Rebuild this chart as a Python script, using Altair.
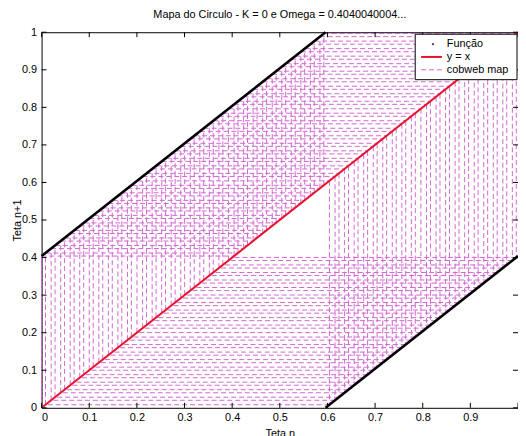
import math
import altair as alt
import pandas as pd

# ---------------- data ----------------
TITLE = "Mapa do Circulo - K = 0 e Omega = 0.4040040004..."
K = 0.0
OMEGA = 0.4040040004
X0 = 0.0
N_ITER = 100

# function branches (Função): end points of the two branches
func_x = [0.0, 0.596, 0.596, 1.0]
func_y = [0.404, 1.0, 0.0, 0.404]
func_branch = ["a", "a", "b", "b"]

# identity line y = x
id_x = [0.0, 1.0]
id_y = [0.0, 1.0]

x_tick_values = [0, 0.1, 0.2, 0.3, 0.4, 0.5, 0.6, 0.7, 0.8, 0.9, 1.0]
x_label_values = [0, 0.1, 0.2, 0.3, 0.4, 0.5, 0.6, 0.7, 0.8, 0.9]
y_tick_values = [0, 0.1, 0.2, 0.3, 0.4, 0.5, 0.6, 0.7, 0.8, 0.9, 1.0]

legend_labels = ["Função", "y = x", "cobweb map"]

# cobweb iterates of the circle map
iterates = [X0]
for _ in range(N_ITER):
    xn = iterates[-1]
    iterates.append((xn + OMEGA - K / (2 * math.pi) * math.sin(2 * math.pi * xn)) % 1.0)

seg_rows = []
for n in range(N_ITER):
    a, b = iterates[n], iterates[n + 1]
    seg_rows.append({"x": a, "y": a, "x2": a, "y2": b})
    seg_rows.append({"x": a, "y": b, "x2": b, "y2": b})
cobweb_df = pd.DataFrame(seg_rows)
func_df = pd.DataFrame({"x": func_x, "y": func_y, "branch": func_branch})
id_df = pd.DataFrame({"x": id_x, "y": id_y})
xt_df = pd.DataFrame({"v": x_tick_values})
yt_df = pd.DataFrame({"v": y_tick_values})

# ---------------- styling ----------------
W, H = 482, 380
FONT = "Liberation Sans"
MAG = "#d066d0"
RED = "#e8102a"

sx = alt.Scale(domain=[0, 1], nice=False, zero=False)
sy = alt.Scale(domain=[0, 1], nice=False, zero=False)
xaxis = alt.Axis(values=x_label_values, ticks=False, domain=False, grid=False,
                 labelPadding=4, title="Teta n", titlePadding=5, format="~g",
                 labelFont=FONT, labelFontSize=11, titleFont=FONT, titleFontSize=11,
                 titleFontWeight="normal", labelColor="black", titleColor="black")
yaxis = alt.Axis(values=y_tick_values, ticks=False, domain=False, grid=False,
                 labelPadding=5, title="Teta n+1", titlePadding=-1, format="~g",
                 labelFont=FONT, labelFontSize=11, titleFont=FONT, titleFontSize=11,
                 titleFontWeight="normal", labelColor="black", titleColor="black")

X = lambda f: alt.X(f, type="quantitative", scale=sx, axis=xaxis)
Y = lambda f: alt.Y(f, type="quantitative", scale=sy, axis=yaxis)

cobweb = alt.Chart(cobweb_df).mark_rule(color=MAG, strokeWidth=1, strokeDash=[5, 3]).encode(
    x=X("x"), y=Y("y"), x2="x2", y2="y2"
)
func = alt.Chart(func_df).mark_line(color="black", strokeWidth=2.5).encode(
    x=X("x"), y=Y("y"), detail="branch:N"
)
ident = alt.Chart(id_df).mark_line(color=RED, strokeWidth=2).encode(x=X("x"), y=Y("y"))

tick_len = 5
t_bottom = alt.Chart(xt_df).mark_rule(color="black").encode(
    x=X("v"), y=alt.value(H), y2=alt.value(H - tick_len))
t_top = alt.Chart(xt_df).mark_rule(color="black").encode(
    x=X("v"), y=alt.value(0), y2=alt.value(tick_len))
t_left = alt.Chart(yt_df).mark_rule(color="black").encode(
    y=Y("v"), x=alt.value(0), x2=alt.value(tick_len))
t_right = alt.Chart(yt_df).mark_rule(color="black").encode(
    y=Y("v"), x=alt.value(W), x2=alt.value(W - tick_len))

one = pd.DataFrame({"a": [0]})
LX0, LX1, LY0, LY1 = 378, 481, 2, 48
leg_box = alt.Chart(one).mark_rect(fill="white", stroke="black", strokeWidth=1).encode(
    x=alt.value(LX0), x2=alt.value(LX1), y=alt.value(LY0), y2=alt.value(LY1))
rows_y = [12, 25, 38]
leg_dot = alt.Chart(one).mark_point(filled=True, color="black", size=6, shape="circle").encode(
    x=alt.value(396), y=alt.value(rows_y[0]))
leg_red = alt.Chart(one).mark_rule(color=RED, strokeWidth=2).encode(
    x=alt.value(384), x2=alt.value(405), y=alt.value(rows_y[1]))
leg_mag = alt.Chart(one).mark_rule(color=MAG, strokeWidth=1, strokeDash=[5, 3]).encode(
    x=alt.value(384), x2=alt.value(405), y=alt.value(rows_y[2]))
leg_texts = [
    alt.Chart(one).mark_text(align="left", baseline="middle", font=FONT, fontSize=11,
                             color="black").encode(
        x=alt.value(410), y=alt.value(rows_y[i]), text=alt.value(lab))
    for i, lab in enumerate(legend_labels)
]

chart = alt.layer(
    cobweb, func, ident, t_bottom, t_top, t_left, t_right,
    leg_box, leg_dot, leg_red, leg_mag, *leg_texts
).properties(
    width=W, height=H,
    title=alt.TitleParams(TITLE, font=FONT, fontSize=11, fontWeight="normal",
                          color="black", offset=6, anchor="middle"),
    autosize=alt.AutoSizeParams(type="none"),
    padding={"left": 34, "top": 22, "right": 0, "bottom": 26},
).configure_view(stroke="black", strokeWidth=1)

chart.save("out.html", embed_options={"renderer": "svg", "actions": False})
